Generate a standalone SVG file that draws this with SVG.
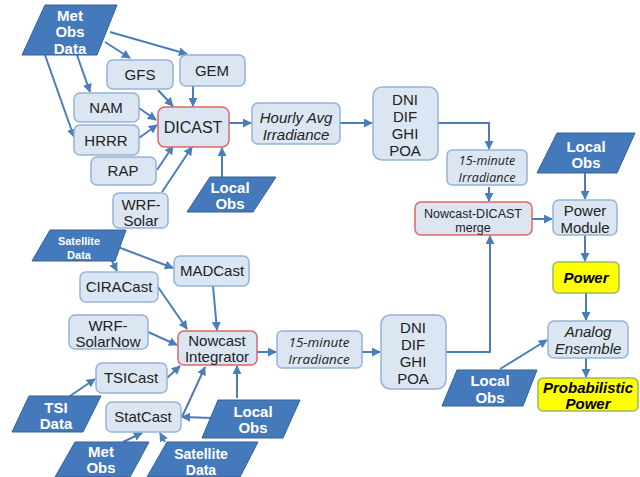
<svg xmlns="http://www.w3.org/2000/svg" width="640" height="477" viewBox="0 0 640 477">
<defs>
<marker id="ah" viewBox="0 0 10 10" refX="9" refY="5" markerWidth="4.5" markerHeight="4.5" orient="auto">
<path d="M0,0 L10,5 L0,10 z" fill="#4a7ebb"/>
</marker>
<style>
.bx{fill:#dce6f2;stroke:#95b3d7;stroke-width:1.5}
.rd{fill:#dce6f2;stroke:#e06666;stroke-width:1.5}
.yl{fill:#ffff00;stroke:#9bbb59;stroke-width:1.5}
.pg{fill:#4479bb;stroke:#35619a;stroke-width:1}
.t{font-family:"Liberation Sans",Arial,sans-serif;font-size:15px;fill:#222;text-anchor:middle}
.it{font-style:italic}
.os{font-family:"Open Sans","Liberation Sans",sans-serif;font-size:12.5px;font-style:italic}
.w{font-family:"Liberation Sans",Arial,sans-serif;font-size:15px;font-weight:bold;fill:#fff;text-anchor:middle}
.c line,.c polyline{stroke:#4a7ebb;stroke-width:2;fill:none;marker-end:url(#ah)}
</style>
</defs>
<rect width="640" height="477" fill="#fff"/>

<g class="c" id="connectors">
<line x1="105" y1="42" x2="130" y2="58"/>
<line x1="110" y1="32" x2="187" y2="54"/>
<line x1="77" y1="55" x2="90" y2="92"/>
<line x1="45" y1="55" x2="74" y2="137"/>
<line x1="158" y1="90" x2="173" y2="106"/>
<line x1="193" y1="86" x2="193" y2="106"/>
<line x1="139" y1="108" x2="156" y2="120"/>
<line x1="139" y1="138" x2="157" y2="125"/>
<line x1="157" y1="170" x2="173" y2="146"/>
<line x1="162" y1="192" x2="192" y2="147"/>
<line x1="222" y1="178" x2="222" y2="148"/>
<line x1="229" y1="123" x2="251" y2="123"/>
<line x1="340" y1="123" x2="372" y2="123"/>
<polyline points="438,123 489,123 489,149"/>
<line x1="489" y1="187" x2="489" y2="201"/>
<polyline points="446,352 490,352 490,236"/>
<line x1="532" y1="219" x2="552" y2="219"/>
<line x1="585" y1="173" x2="585" y2="199"/>
<line x1="585" y1="235" x2="585" y2="261"/>
<line x1="586" y1="293" x2="586" y2="320"/>
<line x1="586" y1="358" x2="586" y2="377"/>
<line x1="500" y1="369" x2="547" y2="340"/>
<line x1="257" y1="352" x2="276" y2="352"/>
<line x1="362" y1="352" x2="380" y2="352"/>
<line x1="110" y1="257" x2="117" y2="271"/>
<line x1="118" y1="247" x2="173" y2="268"/>
<line x1="158" y1="287" x2="187" y2="329"/>
<line x1="213" y1="286" x2="217" y2="330"/>
<line x1="148" y1="332" x2="177" y2="345"/>
<line x1="167" y1="378" x2="180" y2="366"/>
<line x1="70" y1="396" x2="95" y2="379"/>
<line x1="182" y1="417" x2="205" y2="367"/>
<line x1="237" y1="398" x2="237" y2="366"/>
<line x1="213" y1="418" x2="182" y2="417"/>
<line x1="123" y1="442" x2="142" y2="433"/>
<line x1="165" y1="442" x2="160" y2="433"/>
</g>

<g id="met-obs-data"><polygon class="pg" points="45,5 117,5 97,55 22,55"/>
<text class="w" x="70" y="21">Met</text><text class="w" x="70" y="37">Obs</text><text class="w" x="70" y="54">Data</text></g>
<g id="gfs"><rect class="bx" x="107" y="60" width="66" height="29" rx="6"/><text class="t" x="140" y="80">GFS</text></g>
<g id="gem"><rect class="bx" x="180" y="55" width="65" height="31" rx="6"/><text class="t" x="212" y="76">GEM</text></g>
<g id="nam"><rect class="bx" x="74" y="93" width="65" height="29" rx="6"/><text class="t" x="106" y="113">NAM</text></g>
<g id="hrrr"><rect class="bx" x="74" y="125" width="65" height="30" rx="6"/><text class="t" x="106" y="146">HRRR</text></g>
<g id="rap"><rect class="bx" x="91" y="157" width="65" height="28" rx="6"/><text class="t" x="123" y="176">RAP</text></g>
<g id="wrf-solar"><rect class="bx" x="113" y="193" width="55" height="35" rx="6"/><text class="t" x="141" y="210">WRF-</text><text class="t" x="141" y="226">Solar</text></g>
<g id="dicast"><rect class="rd" x="158" y="107" width="71" height="40" rx="7"/><text class="t" x="193" y="133" style="font-size:16px">DICAST</text></g>
<g id="local-obs-1"><polygon class="pg" points="210,177 276,177 253,212 187,212"/>
<text class="w" x="230" y="193">Local</text><text class="w" x="230" y="209">Obs</text></g>
<g id="hourly-avg"><rect class="bx" x="252" y="103" width="88" height="41" rx="6"/><text class="t it" x="296" y="123">Hourly Avg</text><text class="t it" x="296" y="140">Irradiance</text></g>
<g id="dni-top"><rect class="bx" x="373" y="87" width="65" height="73" rx="9"/>
<text class="t" x="405" y="105">DNI</text><text class="t" x="405" y="122">DIF</text><text class="t" x="405" y="139">GHI</text><text class="t" x="405" y="156">POA</text></g>
<g id="fifteen-top"><rect class="bx" x="447" y="150" width="80" height="35" rx="5"/><text class="t os" x="487" y="165">15-minute</text><text class="t os" x="487" y="182">Irradiance</text></g>
<g id="merge"><rect class="rd" x="415" y="202" width="117" height="33" rx="6"/><text class="t" x="473" y="218" style="font-size:12.5px">Nowcast-DICAST</text><text class="t" x="473" y="232" style="font-size:12.5px">merge</text></g>
<g id="local-obs-2"><polygon class="pg" points="557,133 635,133 617,173 537,173"/>
<text class="w" x="586" y="152">Local</text><text class="w" x="586" y="168">Obs</text></g>
<g id="power-module"><rect class="bx" x="553" y="200" width="64" height="35" rx="6"/><text class="t" x="585" y="216">Power</text><text class="t" x="585" y="233">Module</text></g>
<g id="power"><rect class="yl" x="553" y="262" width="66" height="31" rx="5"/><text class="t" x="586" y="283" style="font-weight:bold;font-style:italic;fill:#000">Power</text></g>
<g id="analog"><rect class="bx" x="548" y="321" width="80" height="37" rx="6"/><text class="t it" x="588" y="337">Analog</text><text class="t it" x="588" y="354">Ensemble</text></g>
<g id="prob-power"><rect class="yl" x="538" y="378" width="100" height="33" rx="5"/><text class="t" x="588" y="393" style="font-weight:bold;font-style:italic;fill:#000">Probabilistic</text><text class="t" x="588" y="409" style="font-weight:bold;font-style:italic;fill:#000">Power</text></g>
<g id="local-obs-3"><polygon class="pg" points="457,370 537,370 523,406 442,406"/>
<text class="w" x="490" y="386">Local</text><text class="w" x="490" y="403">Obs</text></g>
<g id="dni-bottom"><rect class="bx" x="381" y="315" width="65" height="74" rx="9"/>
<text class="t" x="413" y="333">DNI</text><text class="t" x="413" y="350">DIF</text><text class="t" x="413" y="367">GHI</text><text class="t" x="413" y="384">POA</text></g>
<g id="fifteen-bottom"><rect class="bx" x="277" y="331" width="85" height="37" rx="5"/><text class="t os" x="319" y="347" style="font-size:13.5px">15-minute</text><text class="t os" x="319" y="364" style="font-size:13.5px">Irradiance</text></g>
<g id="nowcast"><rect class="rd" x="178" y="331" width="79" height="34" rx="6"/><text class="t" x="217" y="346">Nowcast</text><text class="t" x="217" y="362">Integrator</text></g>
<g id="sat-data-1"><polygon class="pg" points="50,230 126,230 115,261 32,261"/>
<text class="w" x="79" y="245" style="font-size:11px">Satellite</text><text class="w" x="79" y="259" style="font-size:11px">Data</text></g>
<g id="madcast"><rect class="bx" x="174" y="256" width="75" height="30" rx="6"/><text class="t" x="212" y="276">MADCast</text></g>
<g id="ciracast"><rect class="bx" x="80" y="272" width="78" height="30" rx="6"/><text class="t" x="119" y="292">CIRACast</text></g>
<g id="wrf-solarnow"><rect class="bx" x="69" y="315" width="79" height="34" rx="6"/><text class="t" x="108" y="331">WRF-</text><text class="t" x="108" y="347">SolarNow</text></g>
<g id="tsicast"><rect class="bx" x="96" y="363" width="71" height="30" rx="6"/><text class="t" x="131" y="383">TSICast</text></g>
<g id="tsi-data"><polygon class="pg" points="29,396 101,396 83,432 12,432"/>
<text class="w" x="56" y="413">TSI</text><text class="w" x="56" y="429">Data</text></g>
<g id="statcast"><rect class="bx" x="106" y="402" width="75" height="30" rx="6"/><text class="t" x="143" y="422">StatCast</text></g>
<g id="local-obs-4"><polygon class="pg" points="218,400 300,400 283,438 202,438"/>
<text class="w" x="253" y="417">Local</text><text class="w" x="253" y="433">Obs</text></g>
<g id="met-obs-2"><polygon class="pg" points="75,442 149,442 130,477 55,477"/>
<text class="w" x="101" y="457">Met</text><text class="w" x="101" y="473">Obs</text></g>
<g id="sat-data-2"><polygon class="pg" points="167,442 258,442 240,477 147,477"/>
<text class="w" x="201" y="459" style="font-size:14px">Satellite</text><text class="w" x="201" y="475" style="font-size:14px">Data</text></g>
</svg>
